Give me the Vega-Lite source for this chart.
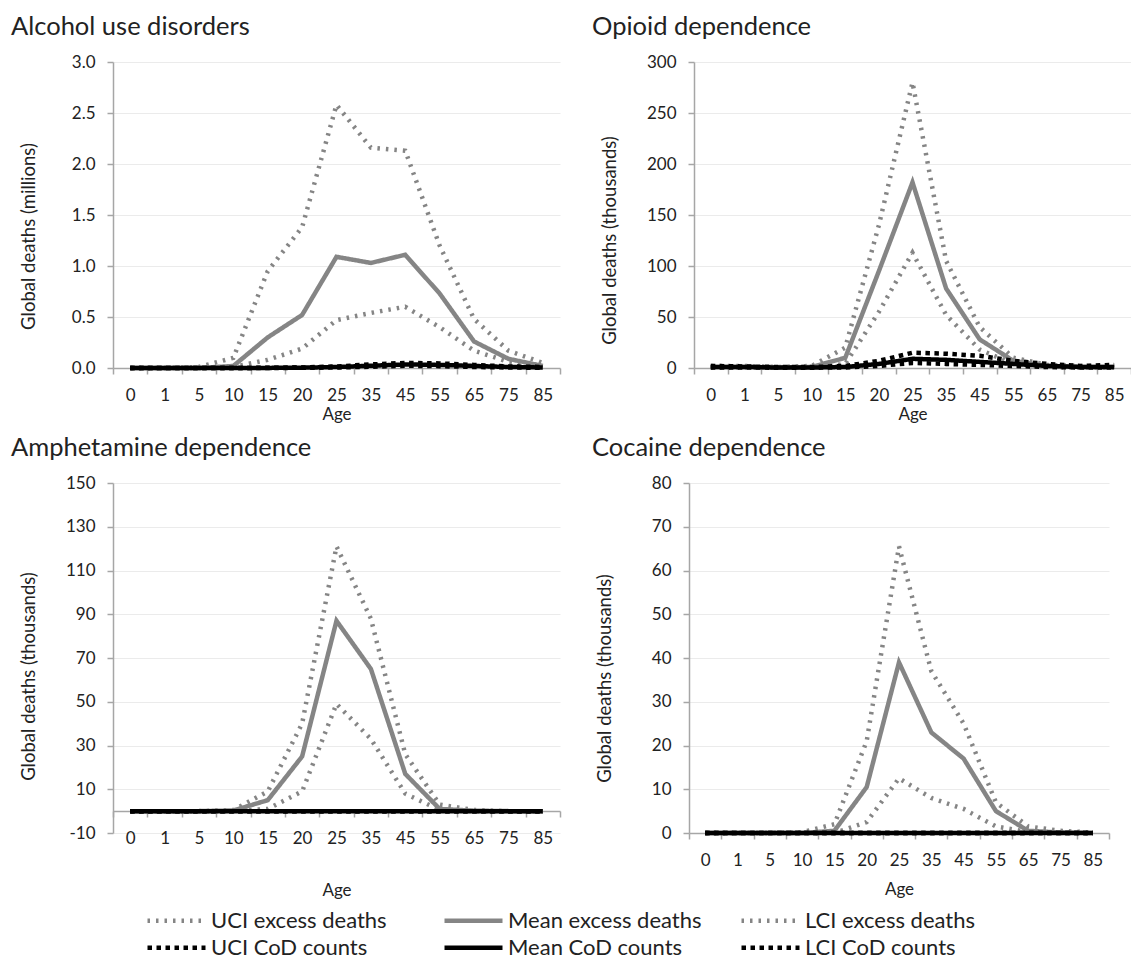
{
  "$schema": "https://vega.github.io/schema/vega-lite/v6.json",
  "background": "white",
  "padding": {"left": 11, "top": 14, "right": 0, "bottom": 0},
  "config": {
    "font": "Lato",
    "view": {"stroke": null},
    "axis": {
      "labelFont": "Lato", "titleFont": "Lato", "labelFontSize": 17, "titleFontSize": 18.5,
      "labelColor": "#222222", "titleColor": "#222222", "titleFontWeight": "normal",
      "domainColor": "#a6a6a6", "domainWidth": 1.5, "tickColor": "#a6a6a6", "tickWidth": 1.5,
      "tickSize": 6, "gridColor": "#ebebeb", "gridWidth": 1
    },
    "axisX": {"grid": false, "labelAngle": 0, "tickBand": "extent", "labelPadding": 13, "titleBaseline": "middle", "titleFontSize": 17},
    "axisY": {"grid": true, "labelPadding": 12, "titleBaseline": "middle", "titleX": -85, "labelExpr": "datum.value + ''"},
    "title": {"font": "Lato", "fontSize": 25.5, "fontWeight": "normal", "color": "#222222", "anchor": "start", "frame": "group", "baseline": "alphabetic", "offset": 13},
    "legend": {
      "labelFont": "Lato", "labelFontSize": 22, "labelColor": "#222222", "labelLimit": 400, "symbolType": "stroke",
      "symbolSize": 3364, "symbolStrokeWidth": 4.5, "columns": 3, "gridAlign": "all", "direction": "horizontal",
      "columnPadding": 30, "rowPadding": 0, "labelOffset": 3, "padding": 0
    },
    "line": {"strokeWidth": 4.5, "strokeCap": "butt"}
  },
  "datasets": {
    "deaths": [
      {"d": "alc", "age": 0, "ue": 0, "me": 0, "le": 0, "uc": 0, "mc": 0, "lc": 0},
      {"d": "alc", "age": 1, "ue": 0, "me": 0, "le": 0, "uc": 0, "mc": 0, "lc": 0},
      {"d": "alc", "age": 5, "ue": 0.01, "me": 0, "le": 0, "uc": 0, "mc": 0, "lc": 0},
      {"d": "alc", "age": 10, "ue": 0.1, "me": 0.02, "le": 0.01, "uc": 0, "mc": 0, "lc": 0},
      {"d": "alc", "age": 15, "ue": 0.95, "me": 0.3, "le": 0.08, "uc": 0.002, "mc": 0.001, "lc": 0},
      {"d": "alc", "age": 20, "ue": 1.38, "me": 0.52, "le": 0.19, "uc": 0.005, "mc": 0.003, "lc": 0.002},
      {"d": "alc", "age": 25, "ue": 2.58, "me": 1.09, "le": 0.47, "uc": 0.015, "mc": 0.01, "lc": 0.005},
      {"d": "alc", "age": 35, "ue": 2.16, "me": 1.03, "le": 0.54, "uc": 0.035, "mc": 0.022, "lc": 0.012},
      {"d": "alc", "age": 45, "ue": 2.13, "me": 1.11, "le": 0.6, "uc": 0.05, "mc": 0.035, "lc": 0.022},
      {"d": "alc", "age": 55, "ue": 1.2, "me": 0.73, "le": 0.4, "uc": 0.045, "mc": 0.03, "lc": 0.018},
      {"d": "alc", "age": 65, "ue": 0.48, "me": 0.26, "le": 0.17, "uc": 0.03, "mc": 0.02, "lc": 0.01},
      {"d": "alc", "age": 75, "ue": 0.17, "me": 0.09, "le": 0.06, "uc": 0.015, "mc": 0.01, "lc": 0.005},
      {"d": "alc", "age": 85, "ue": 0.05, "me": 0.02, "le": 0.02, "uc": 0.01, "mc": 0.005, "lc": 0.002},
      {"d": "opi", "age": 0, "ue": 2, "me": 1, "le": 0.5, "uc": 2, "mc": 1, "lc": 0.5},
      {"d": "opi", "age": 1, "ue": 2, "me": 1, "le": 0.5, "uc": 1.5, "mc": 1, "lc": 0.5},
      {"d": "opi", "age": 5, "ue": 1, "me": 0.5, "le": 0.3, "uc": 1, "mc": 0.5, "lc": 0.3},
      {"d": "opi", "age": 10, "ue": 2, "me": 1, "le": 0.5, "uc": 1, "mc": 0.5, "lc": 0.3},
      {"d": "opi", "age": 15, "ue": 20, "me": 10, "le": 4, "uc": 2, "mc": 1, "lc": 0.5},
      {"d": "opi", "age": 20, "ue": 140, "me": 95, "le": 55, "uc": 7, "mc": 4, "lc": 2},
      {"d": "opi", "age": 25, "ue": 280, "me": 182, "le": 113, "uc": 15, "mc": 9, "lc": 5},
      {"d": "opi", "age": 35, "ue": 105, "me": 78, "le": 52, "uc": 14, "mc": 8, "lc": 4},
      {"d": "opi", "age": 45, "ue": 40, "me": 28, "le": 18, "uc": 12, "mc": 6, "lc": 3},
      {"d": "opi", "age": 55, "ue": 10, "me": 7, "le": 4, "uc": 7, "mc": 4, "lc": 2},
      {"d": "opi", "age": 65, "ue": 3, "me": 2, "le": 1, "uc": 4, "mc": 2, "lc": 1},
      {"d": "opi", "age": 75, "ue": 2, "me": 1, "le": 0.5, "uc": 2, "mc": 1, "lc": 0.5},
      {"d": "opi", "age": 85, "ue": 2, "me": 1, "le": 0.5, "uc": 3, "mc": 1, "lc": 0.5},
      {"d": "amp", "age": 0, "ue": 0, "me": 0, "le": 0, "uc": 0, "mc": 0, "lc": 0},
      {"d": "amp", "age": 1, "ue": 0, "me": 0, "le": 0, "uc": 0, "mc": 0, "lc": 0},
      {"d": "amp", "age": 5, "ue": 0, "me": 0, "le": 0, "uc": 0, "mc": 0, "lc": 0},
      {"d": "amp", "age": 10, "ue": 0.5, "me": 0.3, "le": 0, "uc": 0, "mc": 0, "lc": 0},
      {"d": "amp", "age": 15, "ue": 9, "me": 5, "le": 1, "uc": 0, "mc": 0, "lc": 0},
      {"d": "amp", "age": 20, "ue": 40, "me": 25, "le": 9, "uc": 0, "mc": 0, "lc": 0},
      {"d": "amp", "age": 25, "ue": 121, "me": 87, "le": 49, "uc": 0, "mc": 0, "lc": 0},
      {"d": "amp", "age": 35, "ue": 88, "me": 65, "le": 33, "uc": 0, "mc": 0, "lc": 0},
      {"d": "amp", "age": 45, "ue": 26, "me": 17, "le": 8, "uc": 0, "mc": 0, "lc": 0},
      {"d": "amp", "age": 55, "ue": 3, "me": 1, "le": 0.5, "uc": 0, "mc": 0, "lc": 0},
      {"d": "amp", "age": 65, "ue": 0.5, "me": 0.2, "le": 0, "uc": 0, "mc": 0, "lc": 0},
      {"d": "amp", "age": 75, "ue": 0, "me": 0, "le": 0, "uc": 0, "mc": 0, "lc": 0},
      {"d": "amp", "age": 85, "ue": 0, "me": 0, "le": 0, "uc": 0, "mc": 0, "lc": 0},
      {"d": "coc", "age": 0, "ue": 0, "me": 0, "le": 0, "uc": 0, "mc": 0, "lc": 0},
      {"d": "coc", "age": 1, "ue": 0, "me": 0, "le": 0, "uc": 0, "mc": 0, "lc": 0},
      {"d": "coc", "age": 5, "ue": 0, "me": 0, "le": 0, "uc": 0, "mc": 0, "lc": 0},
      {"d": "coc", "age": 10, "ue": 0.2, "me": 0, "le": 0, "uc": 0, "mc": 0, "lc": 0},
      {"d": "coc", "age": 15, "ue": 2, "me": 0.5, "le": 0, "uc": 0, "mc": 0, "lc": 0},
      {"d": "coc", "age": 20, "ue": 21, "me": 10.5, "le": 2.5, "uc": 0, "mc": 0, "lc": 0},
      {"d": "coc", "age": 25, "ue": 65.5, "me": 39, "le": 12.5, "uc": 0, "mc": 0, "lc": 0},
      {"d": "coc", "age": 35, "ue": 37, "me": 23, "le": 8, "uc": 0, "mc": 0, "lc": 0},
      {"d": "coc", "age": 45, "ue": 25, "me": 17, "le": 5.5, "uc": 0, "mc": 0, "lc": 0},
      {"d": "coc", "age": 55, "ue": 7, "me": 5, "le": 1.5, "uc": 0, "mc": 0, "lc": 0},
      {"d": "coc", "age": 65, "ue": 1.5, "me": 0.5, "le": 0.2, "uc": 0, "mc": 0, "lc": 0},
      {"d": "coc", "age": 75, "ue": 0.5, "me": 0.1, "le": 0, "uc": 0, "mc": 0, "lc": 0},
      {"d": "coc", "age": 85, "ue": 0.1, "me": 0, "le": 0, "uc": 0, "mc": 0, "lc": 0}
    ]
  },
  "data": {"name": "deaths"},
  "resolve": {"scale": {"color": "independent", "strokeDash": "independent"}, "legend": {"color": "independent", "strokeDash": "independent"}},
  "spacing": 13,
  "vconcat": [
    {
      "spacing": 134,
      "bounds": "flush",
      "resolve": {"scale": {"color": "independent", "strokeDash": "independent"}, "legend": {"color": "independent", "strokeDash": "independent"}},
      "hconcat": [
        {
          "width": 447, "height": 306,
          "title": {"text": "Alcohol use disorders", "dx": -102},
          "transform": [{"filter": "datum.d == 'alc'"}, {"fold": ["ue", "me", "le", "uc", "mc", "lc"], "as": ["s", "v"]}],
          "encoding": {
            "x": {"field": "age", "type": "ordinal", "bandPosition": 0.5,
              "scale": {"type": "band", "domain": [0, 1, 5, 10, 15, 20, 25, 35, 45, 55, 65, 75, 85], "paddingInner": 0, "paddingOuter": 0},
              "axis": {"title": "Age", "titleY": 46}},
            "y": {"field": "v", "type": "quantitative", "scale": {"domain": [0, 3], "nice": false, "zero": false},
              "axis": {"title": "Global deaths (millions)", "values": [0, 0.5, 1, 1.5, 2, 2.5, 3], "labelExpr": "format(datum.value, '.1f')", "titleY": 174}}
          },
          "resolve": {"scale": {"color": "independent", "strokeDash": "independent"}, "legend": {"color": "independent", "strokeDash": "independent"}},
          "layer": [
            {
              "transform": [{"filter": {"field": "s", "oneOf": ["ue", "me", "le"]}}],
              "encoding": {
                "color": {"field": "s", "type": "nominal", "scale": {"domain": ["ue", "me", "le"], "range": ["#858585", "#858585", "#858585"]}, "legend": null},
                "strokeDash": {"field": "s", "type": "nominal", "scale": {"domain": ["ue", "me", "le"], "range": [[2.5, 6], [1, 0], [2.5, 6]]}, "legend": null}
              },
              "mark": {"type": "line"}
            },
            {
              "transform": [{"filter": {"field": "s", "oneOf": ["uc", "mc", "lc"]}}],
              "encoding": {
                "color": {"field": "s", "type": "nominal", "scale": {"domain": ["uc", "mc", "lc"], "range": ["#000000", "#000000", "#000000"]}, "legend": null},
                "strokeDash": {"field": "s", "type": "nominal", "scale": {"domain": ["uc", "mc", "lc"], "range": [[4.5, 4.5], [1, 0], [4.5, 4.5]]}, "legend": null}
              },
              "mark": {"type": "line"}
            }
          ]
        },
        {
          "width": 437, "height": 306,
          "title": {"text": "Opioid dependence", "dx": -102},
          "transform": [{"filter": "datum.d == 'opi'"}, {"fold": ["ue", "me", "le", "uc", "mc", "lc"], "as": ["s", "v"]}],
          "encoding": {
            "x": {"field": "age", "type": "ordinal", "bandPosition": 0.5,
              "scale": {"type": "band", "domain": [0, 1, 5, 10, 15, 20, 25, 35, 45, 55, 65, 75, 85], "paddingInner": 0, "paddingOuter": 0},
              "axis": {"title": "Age", "titleY": 46}},
            "y": {"field": "v", "type": "quantitative", "scale": {"domain": [0, 300], "nice": false, "zero": false},
              "axis": {"title": "Global deaths (thousands)", "values": [0, 50, 100, 150, 200, 250, 300], "titleY": 178}}
          },
          "resolve": {"scale": {"color": "independent", "strokeDash": "independent"}, "legend": {"color": "independent", "strokeDash": "independent"}},
          "layer": [
            {
              "transform": [{"filter": {"field": "s", "oneOf": ["ue", "me", "le"]}}],
              "encoding": {
                "color": {"field": "s", "type": "nominal", "scale": {"domain": ["ue", "me", "le"], "range": ["#858585", "#858585", "#858585"]}, "legend": null},
                "strokeDash": {"field": "s", "type": "nominal", "scale": {"domain": ["ue", "me", "le"], "range": [[2.5, 6], [1, 0], [2.5, 6]]}, "legend": null}
              },
              "mark": {"type": "line"}
            },
            {
              "transform": [{"filter": {"field": "s", "oneOf": ["uc", "mc", "lc"]}}],
              "encoding": {
                "color": {"field": "s", "type": "nominal", "scale": {"domain": ["uc", "mc", "lc"], "range": ["#000000", "#000000", "#000000"]}, "legend": null},
                "strokeDash": {"field": "s", "type": "nominal", "scale": {"domain": ["uc", "mc", "lc"], "range": [[4.5, 4.5], [1, 0], [4.5, 4.5]]}, "legend": null}
              },
              "mark": {"type": "line"}
            }
          ]
        }
      ]
    },
    {
      "spacing": 129,
      "bounds": "flush",
      "resolve": {"scale": {"color": "independent", "strokeDash": "independent"}, "legend": {"color": "independent", "strokeDash": "independent"}},
      "hconcat": [
        {
          "width": 447, "height": 350,
          "title": {"text": "Amphetamine dependence", "dx": -102},
          "transform": [{"filter": "datum.d == 'amp'"}, {"fold": ["ue", "me", "le", "uc", "mc", "lc"], "as": ["s", "v"]}],
          "encoding": {
            "x": {"field": "age", "type": "ordinal", "bandPosition": 0.5,
              "scale": {"type": "band", "domain": [0, 1, 5, 10, 15, 20, 25, 35, 45, 55, 65, 75, 85], "paddingInner": 0, "paddingOuter": 0},
              "axis": {"title": "Age", "offset": -22, "titleY": 79}},
            "y": {"field": "v", "type": "quantitative", "scale": {"domain": [-10, 150], "nice": false, "zero": false},
              "axis": {"title": "Global deaths (thousands)", "values": [-10, 10, 30, 50, 70, 90, 110, 130, 150], "titleY": 193}}
          },
          "resolve": {"scale": {"color": "independent", "strokeDash": "independent"}, "legend": {"color": "independent", "strokeDash": "independent"}},
          "layer": [
            {
              "transform": [{"filter": {"field": "s", "oneOf": ["ue", "me", "le"]}}],
              "encoding": {
                "color": {"field": "s", "type": "nominal", "scale": {"domain": ["ue", "me", "le"], "range": ["#858585", "#858585", "#858585"]},
                  "legend": {"orient": "none", "legendX": 32, "legendY": 406, "title": null, "direction": "horizontal", "columns": 3,
                    "labelExpr": "datum.label == 'ue' ? 'UCI excess deaths' : datum.label == 'me' ? 'Mean excess deaths' : 'LCI excess deaths'"}},
                "strokeDash": {"field": "s", "type": "nominal", "scale": {"domain": ["ue", "me", "le"], "range": [[2.5, 6], [1, 0], [2.5, 6]]},
                  "legend": {"orient": "none", "legendX": 32, "legendY": 406, "title": null, "direction": "horizontal", "columns": 3,
                    "labelExpr": "datum.label == 'ue' ? 'UCI excess deaths' : datum.label == 'me' ? 'Mean excess deaths' : 'LCI excess deaths'"}}
              },
              "mark": {"type": "line"}
            },
            {
              "transform": [{"filter": {"field": "s", "oneOf": ["uc", "mc", "lc"]}}],
              "encoding": {
                "color": {"field": "s", "type": "nominal", "scale": {"domain": ["uc", "mc", "lc"], "range": ["#000000", "#000000", "#000000"]},
                  "legend": {"orient": "none", "legendX": 32, "legendY": 433, "title": null, "direction": "horizontal", "columns": 3, "columnPadding": 49,
                    "labelExpr": "datum.label == 'uc' ? 'UCI CoD counts' : datum.label == 'mc' ? 'Mean CoD counts' : 'LCI CoD counts'"}},
                "strokeDash": {"field": "s", "type": "nominal", "scale": {"domain": ["uc", "mc", "lc"], "range": [[4.5, 4.5], [1, 0], [4.5, 4.5]]},
                  "legend": {"orient": "none", "legendX": 32, "legendY": 433, "title": null, "direction": "horizontal", "columns": 3, "columnPadding": 49,
                    "labelExpr": "datum.label == 'uc' ? 'UCI CoD counts' : datum.label == 'mc' ? 'Mean CoD counts' : 'LCI CoD counts'"}}
              },
              "mark": {"type": "line"}
            }
          ]
        },
        {
          "width": 420, "height": 350,
          "title": {"text": "Cocaine dependence", "dx": -97},
          "transform": [{"filter": "datum.d == 'coc'"}, {"fold": ["ue", "me", "le", "uc", "mc", "lc"], "as": ["s", "v"]}],
          "encoding": {
            "x": {"field": "age", "type": "ordinal", "bandPosition": 0.5,
              "scale": {"type": "band", "domain": [0, 1, 5, 10, 15, 20, 25, 35, 45, 55, 65, 75, 85], "paddingInner": 0, "paddingOuter": 0},
              "axis": {"title": "Age", "titleY": 56}},
            "y": {"field": "v", "type": "quantitative", "scale": {"domain": [0, 80], "nice": false, "zero": false},
              "axis": {"title": "Global deaths (thousands)", "values": [0, 10, 20, 30, 40, 50, 60, 70, 80], "titleY": 195}}
          },
          "resolve": {"scale": {"color": "independent", "strokeDash": "independent"}, "legend": {"color": "independent", "strokeDash": "independent"}},
          "layer": [
            {
              "transform": [{"filter": {"field": "s", "oneOf": ["ue", "me", "le"]}}],
              "encoding": {
                "color": {"field": "s", "type": "nominal", "scale": {"domain": ["ue", "me", "le"], "range": ["#858585", "#858585", "#858585"]}, "legend": null},
                "strokeDash": {"field": "s", "type": "nominal", "scale": {"domain": ["ue", "me", "le"], "range": [[2.5, 6], [1, 0], [2.5, 6]]}, "legend": null}
              },
              "mark": {"type": "line"}
            },
            {
              "transform": [{"filter": {"field": "s", "oneOf": ["uc", "mc", "lc"]}}],
              "encoding": {
                "color": {"field": "s", "type": "nominal", "scale": {"domain": ["uc", "mc", "lc"], "range": ["#000000", "#000000", "#000000"]}, "legend": null},
                "strokeDash": {"field": "s", "type": "nominal", "scale": {"domain": ["uc", "mc", "lc"], "range": [[4.5, 4.5], [1, 0], [4.5, 4.5]]}, "legend": null}
              },
              "mark": {"type": "line"}
            }
          ]
        }
      ]
    }
  ]
}
